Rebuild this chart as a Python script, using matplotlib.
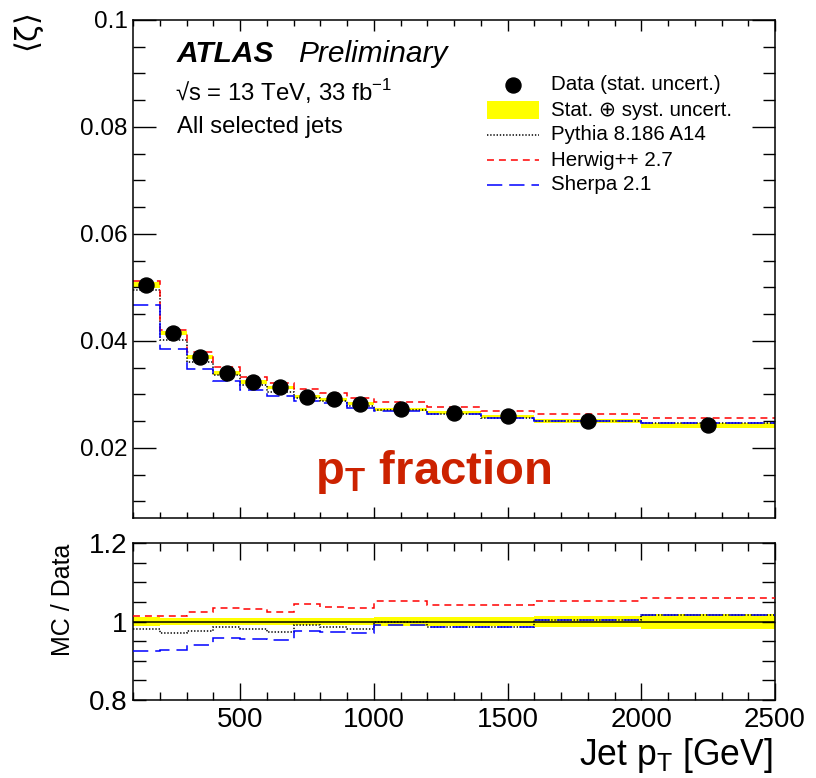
import numpy as np
import matplotlib
matplotlib.use("Agg")
import matplotlib.pyplot as plt
from matplotlib.ticker import MultipleLocator, FuncFormatter
from matplotlib.lines import Line2D
from matplotlib.patches import Rectangle

plt.rcParams['font.family'] = ['Liberation Sans', 'DejaVu Sans']
plt.rcParams['lines.scale_dashes'] = False

# ---------------- data ----------------
bin_edges = [100, 200, 300, 400, 500, 600, 700, 800, 900, 1000, 1200, 1400, 1600, 2000, 2500]
data_vals = [0.0505, 0.0415, 0.0370, 0.0340, 0.0323, 0.0313, 0.0296, 0.0291, 0.0283,
             0.0272, 0.0266, 0.0259, 0.0250, 0.0242]
rel_unc = [0.012, 0.010, 0.010, 0.010, 0.010, 0.010, 0.010, 0.010, 0.010,
           0.011, 0.011, 0.011, 0.015, 0.018]
pythia_vals = [0.04954, 0.04026, 0.03615, 0.03356, 0.03169, 0.03045, 0.02936, 0.02869, 0.02776,
               0.02715, 0.02625, 0.02556, 0.02510, 0.02461]
herwig_vals = [0.05126, 0.04212, 0.03789, 0.03519, 0.03333, 0.03205, 0.03093, 0.03021, 0.02929,
               0.02859, 0.02769, 0.02696, 0.02630, 0.02565]
sherpa_vals = [0.04676, 0.03851, 0.03482, 0.03257, 0.03088, 0.02980, 0.02886, 0.02831, 0.02748,
               0.02693, 0.02625, 0.02556, 0.02510, 0.02461]
pythia_ratio = [0.981, 0.970, 0.977, 0.987, 0.981, 0.973, 0.992, 0.986, 0.981,
                0.998, 0.987, 0.987, 1.004, 1.017]
herwig_ratio = [1.015, 1.015, 1.024, 1.035, 1.032, 1.024, 1.045, 1.038, 1.035,
                1.051, 1.041, 1.041, 1.052, 1.060]
sherpa_ratio = [0.926, 0.928, 0.941, 0.958, 0.956, 0.952, 0.975, 0.973, 0.971,
                0.990, 0.987, 0.987, 1.004, 1.017]

edges = np.array(bin_edges, dtype=float)
centers = 0.5 * (edges[:-1] + edges[1:])
data = np.array(data_vals)
unc = np.array(rel_unc)

W, H = 816, 778
def fx(x): return x / W
def fy(y): return 1 - y / H

YELLOW = '#ffff00'
RED = '#ff0000'
BLUE = '#0000ff'
ls_pythia = (0, (1.0, 1.3))
ls_herwig = (0, (5.0, 3.6))
ls_sherpa = (0, (11.0, 5.0))
LW = 1.1

fig = plt.figure(figsize=(W / 100, H / 100), dpi=100)
ax = fig.add_axes([fx(133), fy(518), (775 - 133) / W, (518 - 20) / H])
axr = fig.add_axes([fx(133), fy(700), (775 - 133) / W, (700 - 543) / H])

# ---------------- main panel ----------------
ax.stairs(data * (1 + unc), edges, baseline=data * (1 - unc), fill=True,
          color=YELLOW, lw=0, zorder=1)
ax.stairs(pythia_vals, edges, baseline=None, color='black', ls=ls_pythia, lw=LW, zorder=2)
ax.stairs(herwig_vals, edges, baseline=None, color=RED, ls=ls_herwig, lw=LW, zorder=2)
ax.stairs(sherpa_vals, edges, baseline=None, color=BLUE, ls=ls_sherpa, lw=LW, zorder=2)
ax.plot(centers, data, 'o', color='black', ms=10.8, zorder=3)

ax.set_xlim(100, 2500)
ax.set_ylim(0.0069, 0.1)
ax.xaxis.set_major_locator(MultipleLocator(500))
ax.xaxis.set_minor_locator(MultipleLocator(100))
ax.yaxis.set_major_locator(MultipleLocator(0.02))
ax.yaxis.set_minor_locator(MultipleLocator(0.005))
ax.yaxis.set_major_formatter(FuncFormatter(lambda v, p: f'{v:g}'))
ax.tick_params(which='both', direction='in', top=True, right=True, width=1.0,
               labelsize=17.5, pad=4)
ax.tick_params(axis='y', which='major', length=16.5)
ax.tick_params(axis='y', which='minor', length=8.5)
ax.tick_params(axis='x', which='major', length=8)
ax.tick_params(axis='x', which='minor', length=4.3)
ax.tick_params(axis='x', labelbottom=False)
for s in ax.spines.values():
    s.set_linewidth(1.1)

# texts
fig.text(fx(177), fy(62), 'ATLAS', fontsize=21.5, fontweight='bold', style='italic',
         ha='left', va='baseline')
fig.text(fx(298), fy(62), 'Preliminary', fontsize=21.5, style='italic',
         ha='left', va='baseline')
fig.text(fx(175), fy(101), '√s = 13 TeV, 33 fb$^{\\mathregular{-1}}$', fontsize=17.3,
         ha='left', va='baseline')
fig.text(fx(177), fy(133), 'All selected jets', fontsize=17.2, ha='left', va='baseline')
fig.text(fx(433), fy(484), r'p$_\mathregular{T}$ fraction', fontsize=34, fontweight='bold',
         color='#cc2200', ha='center', va='baseline')

# y label of main panel
fig.text(fx(29), fy(13), r'$\langle\mathrm{\zeta}\rangle$', fontsize=22, rotation=90,
         ha='center', va='top')

# legend (manual)
leg_rows = [85, 110, 135, 160, 185]
leg_labels = ['Data (stat. uncert.)', 'Stat. ⊕ syst. uncert.', 'Pythia 8.186 A14',
              'Herwig++ 2.7', 'Sherpa 2.1']
x0, x1 = 487, 539
fig.add_artist(Line2D([fx(513)], [fy(leg_rows[0])], marker='o', color='black',
                      ms=10.8, ls='none', transform=fig.transFigure))
fig.add_artist(Rectangle((fx(x0), fy(leg_rows[1] + 8.5)), (x1 - x0) / W, 17 / H,
                         facecolor=YELLOW, edgecolor='none', transform=fig.transFigure))
fig.add_artist(Line2D([fx(x0), fx(x1)], [fy(leg_rows[2])] * 2, color='black', ls=ls_pythia,
                      lw=LW, transform=fig.transFigure))
fig.add_artist(Line2D([fx(x0), fx(x1)], [fy(leg_rows[3])] * 2, color=RED, ls=ls_herwig,
                      lw=LW, transform=fig.transFigure))
fig.add_artist(Line2D([fx(x0), fx(x1)], [fy(leg_rows[4])] * 2, color=BLUE, ls=ls_sherpa,
                      lw=LW, transform=fig.transFigure))
for yrow, lab in zip(leg_rows, leg_labels):
    fig.text(fx(551), fy(yrow), lab, fontsize=14.8, ha='left', va='center')

# ---------------- ratio panel ----------------
axr.stairs(1 + unc, edges, baseline=1 - unc, fill=True, color=YELLOW, lw=0, zorder=1)
axr.axhline(1.0, color='black', lw=LW, zorder=2)
axr.stairs(pythia_ratio, edges, baseline=None, color='black', ls=ls_pythia, lw=LW, zorder=3)
axr.stairs(herwig_ratio, edges, baseline=None, color=RED, ls=ls_herwig, lw=LW, zorder=3)
axr.stairs(sherpa_ratio, edges, baseline=None, color=BLUE, ls=ls_sherpa, lw=LW, zorder=3)

axr.set_xlim(100, 2500)
axr.set_ylim(0.8, 1.2)
axr.xaxis.set_major_locator(MultipleLocator(500))
axr.xaxis.set_minor_locator(MultipleLocator(100))
axr.yaxis.set_major_locator(MultipleLocator(0.2))
axr.yaxis.set_minor_locator(MultipleLocator(0.05))
axr.yaxis.set_major_formatter(FuncFormatter(lambda v, p: f'{v:g}'))
axr.tick_params(which='both', direction='in', top=True, right=True, width=1.0,
                labelsize=20, pad=4)
axr.tick_params(axis='y', which='both', length=9.4)
axr.tick_params(axis='x', which='major', length=12, pad=5)
axr.tick_params(axis='x', which='minor', length=5.8)
for s in axr.spines.values():
    s.set_linewidth(1.1)

fig.text(fx(773), fy(765), r'Jet p$_\mathregular{T}$ [GeV]', fontsize=25.6,
         ha='right', va='baseline')
fig.text(fx(63), fy(544), 'MC / Data', fontsize=18, rotation=90, ha='center', va='top')

fig.savefig('out.png', dpi=100)
